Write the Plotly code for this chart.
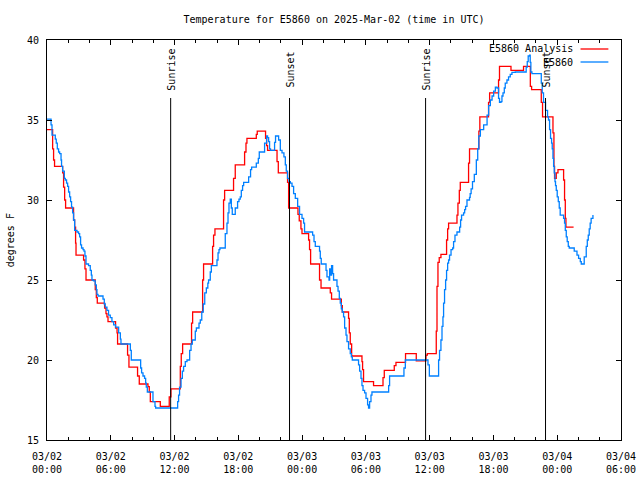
import pandas as pd
import plotly.graph_objects as go

START = pd.Timestamp("2025-03-02 00:00")
X_END = pd.Timestamp("2025-03-04 06:00")

title_text = "Temperature for E5860 on 2025-Mar-02 (time in UTC)"
y_label = "degrees F"

# E5860 Analysis (red), hours after 03/02 00:00 UTC and degrees F
analysis_hours = [
    0.0, 0.53, 0.62, 0.71, 1.47, 1.56, 1.66, 1.75, 2.50, 2.60, 2.69, 2.73,
    3.44, 3.57, 3.67, 4.54, 4.64, 4.73, 5.42, 5.55, 5.64, 5.74, 6.45, 6.59,
    6.64, 7.58, 7.71, 8.52, 8.68, 9.50, 9.62, 9.72, 10.66, 11.50, 11.66,
    12.54, 12.63, 12.76, 13.60, 13.70, 14.64, 14.73, 15.58, 15.67, 15.80,
    16.61, 16.71, 17.55, 17.71, 18.59, 18.72, 18.81, 19.69, 19.78, 20.56,
    20.66, 20.75, 21.64, 21.76, 22.63, 22.73, 23.61, 23.73, 23.89, 23.99,
    24.61, 24.70, 24.80, 25.64, 25.78, 26.65, 26.77, 27.69, 27.78, 28.37,
    28.44, 28.53, 28.66, 29.63, 29.69, 29.78, 30.72, 31.61, 31.73, 32.67,
    32.83, 33.73, 34.74, 35.65, 35.78, 36.62, 36.69, 36.78, 36.90, 37.06,
    37.59, 37.69, 37.78, 38.57, 38.66, 38.79, 38.88, 39.66, 39.75, 40.63,
    40.72, 41.54, 41.64, 42.48, 42.57, 43.65, 44.83, 45.47, 45.59, 46.50,
    46.62, 47.60, 47.69, 47.75, 47.91, 48.07, 48.60, 48.69, 48.76, 48.82,
    49.54,
]
analysis_temp = [
    34.4, 33.2, 32.5, 32.1, 31.7, 30.8, 30.0, 29.5, 28.75, 28.3, 27.3, 26.56,
    26.25, 25.7, 25.0, 24.4, 23.9, 23.56, 23.25, 22.9, 22.7, 22.4, 22.0, 21.7,
    21.0, 20.3, 19.55, 19.0, 18.5, 18.33, 18.0, 17.4, 17.1, 17.7, 18.2,
    19.6, 20.4, 21.0, 22.3, 23.0, 25.0, 26.0, 27.1, 27.8, 28.2,
    30.0, 30.6, 31.35, 32.2, 33.0, 33.55, 33.85, 34.1, 34.3, 33.85,
    33.4, 33.1, 32.4, 31.7, 31.1, 29.5, 29.1, 28.7, 28.2, 27.9,
    27.5, 26.9, 26.0, 25.0, 24.5, 24.2, 23.8, 23.4, 23.0, 22.6,
    21.7, 21.0, 20.25, 19.9, 19.4, 18.65, 18.4, 18.9, 19.35, 19.65,
    19.85, 20.4, 19.95, 20.3, 20.4, 21.8, 24.6, 26.1, 26.4, 26.6,
    27.5, 28.2, 28.55, 29.05, 29.8, 30.6, 31.1, 32.3, 33.2, 34.3,
    35.2, 36.1, 36.7, 37.5, 38.35, 38.1, 38.35, 37.1, 36.9, 36.1,
    35.2, 34.2, 32.1, 31.35, 31.7, 31.9, 31.25, 30.0, 28.85, 28.3,
    28.3,
]

# E5860 observations (blue)
obs_hours = [
    0.00, 0.38, 0.47, 0.78, 0.87, 0.97, 1.09, 1.19, 1.32, 1.37, 1.47, 1.63,
    1.72, 1.84, 1.94, 2.03, 2.13, 2.22, 2.31, 2.41, 2.50, 2.60, 2.82, 2.97,
    3.07, 3.16, 3.25, 3.39, 3.48, 3.57, 3.67, 3.91, 4.07, 4.17, 4.23, 4.38,
    4.54, 4.64, 4.70, 4.80, 5.27, 5.39, 5.48, 5.64, 5.79, 5.95, 6.11, 6.27,
    6.45, 6.74, 6.90, 6.96, 7.84, 7.93, 8.81, 8.90, 9.03, 9.18, 9.28, 9.34,
    9.44, 9.97, 10.16, 10.22, 12.29, 12.38, 12.47, 12.61, 12.73, 12.85,
    13.01, 13.17, 13.42, 13.55, 13.67, 13.95, 14.05, 14.30, 14.42, 14.56,
    14.70, 14.84, 14.99, 15.13, 15.20, 15.36, 15.46, 15.99, 16.09, 16.18,
    16.27, 16.77, 16.93, 17.03, 17.12, 17.24, 17.34, 17.43, 17.71, 17.93,
    18.06, 18.18, 18.28, 18.40, 18.50, 18.97, 19.15, 19.25, 19.69, 19.88,
    19.97, 20.47, 20.66, 20.75, 20.85, 20.94, 21.03, 21.41, 21.50, 21.79,
    21.95, 22.11, 22.29, 22.42, 22.51, 22.63, 22.77, 22.89, 23.05, 23.20,
    23.36, 23.58, 23.76, 23.99, 24.14, 24.23, 24.99, 25.12, 25.24, 25.64,
    25.71, 25.80, 26.25, 26.34, 26.53, 26.59, 26.65, 26.77, 26.87, 26.96,
    27.28, 27.38, 27.50, 27.59, 27.69, 27.78, 27.90, 28.00, 28.13, 28.22,
    28.37, 28.53, 28.63, 28.72, 29.31, 29.41, 29.54, 29.63, 29.73, 29.88,
    30.01, 30.16, 30.25, 30.35, 30.48, 30.57, 32.14, 32.23, 33.58, 33.71,
    35.84, 35.97, 36.84, 36.93, 37.06, 37.16, 37.25, 37.31, 37.40, 37.50,
    37.59, 37.69, 37.78, 37.87, 38.01, 38.16, 38.25, 38.38, 38.57, 38.82,
    38.91, 39.00, 39.19, 39.29, 39.38, 39.51, 39.75, 39.81, 39.90, 40.03,
    40.20, 40.39, 40.52, 40.62, 40.77, 41.08, 41.40, 41.55, 41.71, 41.87,
    42.02, 42.18, 42.33, 42.48, 42.57, 42.71, 42.80, 42.90, 43.02, 43.11,
    43.27, 43.42, 43.58, 43.74, 44.05, 45.08, 45.18, 45.27, 45.40, 45.46,
    45.52, 45.62, 46.50, 46.59, 46.71, 46.90, 47.09, 47.18, 47.28, 47.37,
    47.47, 47.53, 47.60, 47.66, 47.72, 47.79, 47.84, 47.91, 48.00, 48.10,
    48.19, 48.28, 48.60, 48.69, 48.76, 48.85, 48.94, 49.04, 49.13, 49.60,
    49.86, 50.01, 50.17, 50.26, 50.54, 50.73, 50.83, 50.92, 51.01, 51.10,
    51.19, 51.36,
]
obs_temp = [
    35.05, 34.7, 34.06, 33.8, 33.55, 33.2, 33.0, 32.9, 32.5, 32.1, 31.8, 31.35,
    31.25, 31.05, 30.85, 30.5, 30.2, 29.9, 29.55, 29.2, 28.75, 28.1, 28.0, 27.9,
    27.7, 27.2, 27.0, 26.9, 26.8, 26.5, 26.0, 25.9, 25.6, 25.3, 25.0, 24.95,
    24.7, 24.4, 24.1, 24.0, 23.8, 23.5, 23.3, 23.1, 22.8, 22.65, 22.4, 22.2,
    22.05, 21.7, 21.3, 21.0, 20.6, 20.0, 19.5, 19.2, 19.0, 18.85, 18.55, 18.3,
    18.0, 17.4, 17.1, 17.0, 17.4, 17.8, 18.3, 18.85, 19.3, 19.6,
    19.9, 20.0, 20.6, 21.0, 21.25, 21.8, 22.0, 22.3, 22.5, 23.0,
    23.5, 24.2, 24.5, 24.8, 25.0, 25.5, 25.9, 26.25, 26.7, 26.9,
    27.0, 27.9, 28.55, 29.2, 29.8, 30.05, 29.5, 29.1, 29.5, 29.9,
    30.06, 30.2, 30.6, 30.9, 31.1, 31.45, 31.9, 32.05, 32.3, 32.6,
    33.0, 33.55, 34.0, 33.9, 33.65, 33.2, 33.1, 33.6, 34.0, 33.75,
    33.1, 32.95, 32.7, 32.2, 31.8, 31.35, 31.15, 31.05, 30.85, 30.4,
    30.1, 29.6, 29.1, 28.85, 28.55, 28.0, 27.8, 27.4, 27.1, 26.8,
    26.35, 26.0, 25.6, 25.2, 25.0, 25.7, 25.3, 25.9, 25.4, 25.0,
    24.6, 24.3, 23.85, 23.55, 23.2, 23.0, 22.7, 22.0, 21.56, 21.15,
    20.7, 20.4, 20.2, 20.0, 19.7, 19.3, 18.85, 18.4, 18.1, 17.95,
    17.6, 17.2, 17.0, 17.4, 17.8, 18.0, 18.4, 19.0, 19.5, 20.0,
    19.7, 19.0, 20.0, 20.6, 21.25, 22.1, 22.7, 23.55, 24.4, 25.0,
    25.6, 26.05, 26.25, 26.56, 26.9, 27.0, 27.4, 27.8, 28.0, 28.3,
    28.75, 29.05, 29.2, 29.4, 29.6, 30.0, 30.17, 30.4, 30.7, 31.15,
    31.6, 32.5, 33.2, 34.0, 34.4, 34.7, 35.3, 35.9, 36.25, 36.5,
    36.8, 37.05, 37.0, 36.35, 36.1, 36.15, 36.5, 36.7, 37.0, 37.3,
    37.5, 37.7, 37.85, 37.98, 38.0, 38.3, 38.65, 39.0, 39.06, 38.6,
    38.0, 37.9, 37.3, 36.7, 36.1, 35.6, 35.2, 35.0, 34.4, 33.85,
    33.55, 33.2, 32.6, 32.1, 31.7, 31.15, 30.9, 30.6, 30.2, 29.9,
    29.5, 29.06, 28.85, 28.55, 28.1, 27.7, 27.4, 27.1, 27.0, 26.8,
    26.56, 26.35, 26.15, 26.0, 26.45, 27.1, 27.5, 27.8, 28.2, 28.55,
    28.85, 29.06,
]

# Sunrise / sunset markers (UTC)
event_labels = ["Sunrise", "Sunset", "Sunrise", "Sunset"]
event_times = ["2025-03-02 11:38", "2025-03-02 22:49", "2025-03-03 11:37", "2025-03-03 22:54"]

legend_names = ["E5860 Analysis", "E5860"]
colors = ["#ff0000", "#0080ff"]

FONT = "DejaVu Sans Mono"

def to_time(hours):
    return [START + pd.Timedelta(hours=h) for h in hours]

fig = go.Figure()
fig.add_trace(go.Scatter(x=to_time(analysis_hours), y=analysis_temp, mode="lines",
                         line=dict(color=colors[0], width=1.3, shape="hv"),
                         name=legend_names[0], showlegend=False))
fig.add_trace(go.Scatter(x=to_time(obs_hours), y=obs_temp, mode="lines",
                         line=dict(color=colors[1], width=1.3, shape="hv"),
                         name=legend_names[1], showlegend=False))

for lab, t in zip(event_labels, event_times):
    fig.add_shape(type="line", xref="x", yref="paper", x0=t, x1=t, y0=0, y1=0.855,
                  line=dict(color="black", width=1))
    fig.add_annotation(x=t, xref="x", y=0.925, yref="paper", text=lab, textangle=-90,
                       showarrow=False, xanchor="center", yanchor="middle", xshift=1,
                       font=dict(family=FONT, size=10, color="black"))

# manual legend (gnuplot style: text right-aligned, sample on the right)
leg_y = [0.9775, 0.945]
for name, col, yy in zip(legend_names, colors, leg_y):
    fig.add_annotation(x=0.92, xref="paper", y=yy, yref="paper", text=name,
                       showarrow=False, xanchor="right", yanchor="middle",
                       font=dict(family=FONT, size=10, color="black"))
    fig.add_shape(type="line", xref="paper", yref="paper", x0=0.9295, x1=0.978,
                  y0=yy, y1=yy, line=dict(color=col, width=1.3))

fig.add_annotation(x=-0.064, xref="paper", y=0.5, yref="paper", text=y_label,
                   textangle=-90, showarrow=False, xanchor="center", yanchor="middle",
                   font=dict(family=FONT, size=10, color="black"))

fig.update_layout(
    width=640, height=480,
    margin=dict(l=47, r=19, t=40, b=40),
    paper_bgcolor="white", plot_bgcolor="white",
    font=dict(family=FONT, size=10, color="black"),
    title=dict(text=title_text, x=0.5, xref="paper", xanchor="center",
               y=1 - 19 / 480, yref="container", yanchor="middle",
               font=dict(family=FONT, size=10, color="black")),
    showlegend=False,
)
fig.update_xaxes(
    range=[START, X_END], type="date", automargin=False,
    tickmode="linear", tick0=START, dtick=6 * 3600 * 1000,
    tickformat="%m/%d<br>%H:%M",
    ticks="inside", ticklen=5, tickcolor="black", tickwidth=1,
    minor=dict(dtick=2 * 3600 * 1000, tick0=START, ticks="inside", ticklen=3,
               tickcolor="black", showgrid=False),
    showline=True, linecolor="black", linewidth=1, mirror="ticks",
    showgrid=False, zeroline=False, ticklabelstandoff=7,
    tickfont=dict(family=FONT, size=10, color="black"),
)
fig.update_yaxes(
    range=[15, 40], tickmode="linear", tick0=15, dtick=5, automargin=False,
    ticks="inside", ticklen=5, tickcolor="black", tickwidth=1,
    showline=True, linecolor="black", linewidth=1, mirror="ticks",
    showgrid=False, zeroline=False, ticklabelstandoff=5,
    tickfont=dict(family=FONT, size=10, color="black"),
)

fig.write_html("out.html", config={"displayModeBar": False},
               post_script="document.body.style.margin='0';")
